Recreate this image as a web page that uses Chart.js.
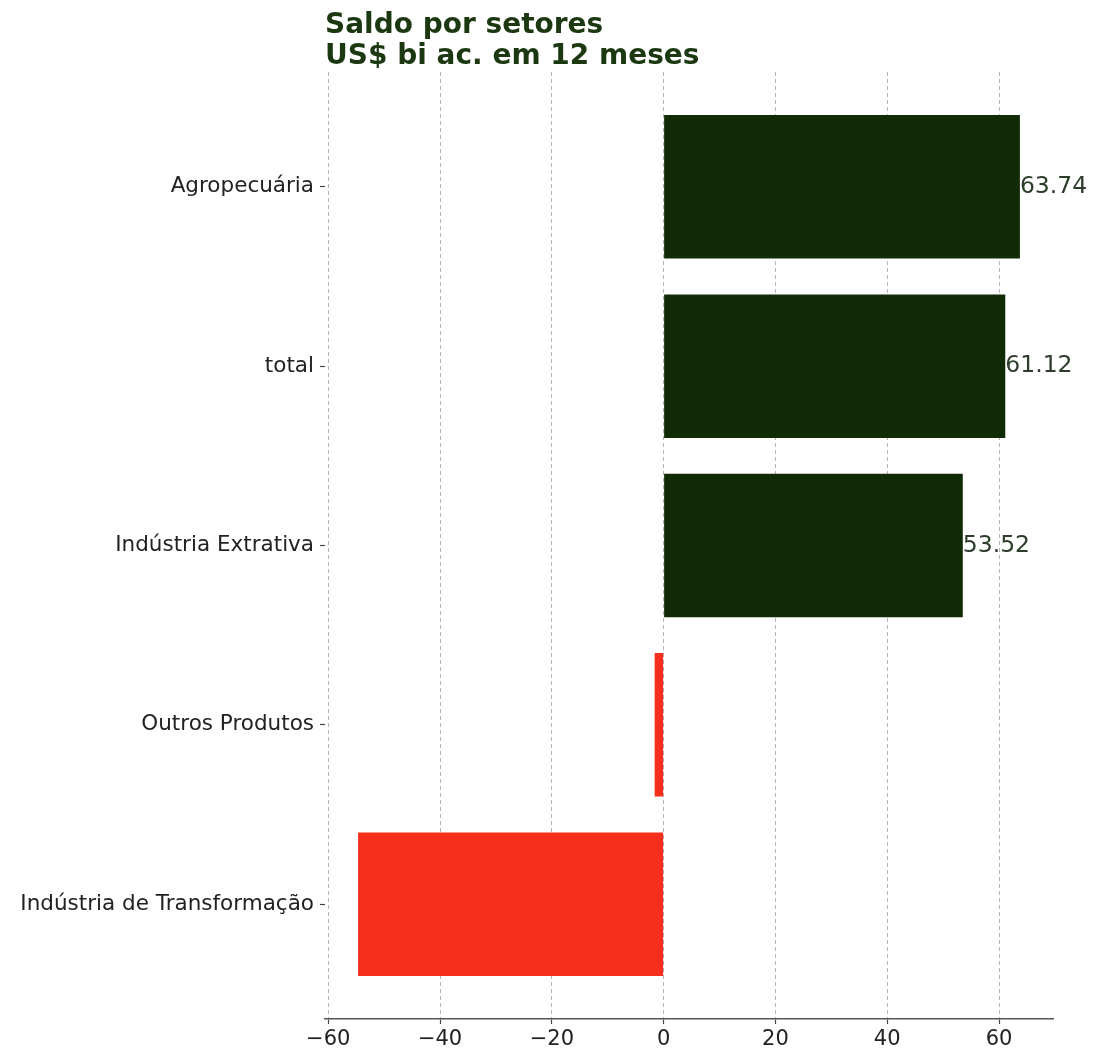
<!DOCTYPE html>
<html>
<head>
<meta charset="utf-8">
<script src="https://cdn.jsdelivr.net/npm/chart.js@4/dist/chart.umd.min.js"></script>
<style>
  body { margin: 0; background: #fff; }
</style>
</head>
<body>
<canvas id="saldoChart" width="1094" height="1050"></canvas>
<script>
// dados
const categories = ['Agropecuária', 'total', 'Indústria Extrativa', 'Outros Produtos', 'Indústria de Transformação'];
const saldo = [63.74, 61.12, 53.52, -1.6, -54.66];
const xTicks = [-60, -40, -20, 0, 20, 40, 60];
const titleLines = ['Saldo por setores', 'US$ bi ac. em 12 meses'];

const FONT = "'DejaVu Sans', sans-serif";
const verde = '#122b07';
const vermelho = '#f62e1b';

// limites como o matplotlib (margem de 5%)
const dMin = Math.min(0, ...saldo), dMax = Math.max(0, ...saldo);
const margem = (dMax - dMin) * 0.05;

const titlePlugin = {
    id: 'tituloEsquerda',
    afterDraw: (chart) => {
        const { ctx, chartArea } = chart;
        ctx.save();
        ctx.fillStyle = '#1b3811';
        ctx.font = 'bold 28px ' + FONT;
        ctx.textAlign = 'left';
        ctx.textBaseline = 'alphabetic';
        ctx.fillText(titleLines[0], chartArea.left, 33);
        ctx.fillText(titleLines[1], chartArea.left, 64);
        ctx.restore();
    }
};

// rótulos dos valores positivos na ponta da barra
const valueLabels = {
    id: 'rotulosValores',
    afterDatasetsDraw: (chart) => {
        const { ctx } = chart;
        const meta = chart.getDatasetMeta(0);
        ctx.save();
        ctx.fillStyle = '#2c3d2a';
        ctx.font = '23.5px ' + FONT;
        ctx.textAlign = 'left';
        ctx.textBaseline = 'middle';
        meta.data.forEach((bar, i) => {
            if (saldo[i] > 0) {
                ctx.fillText(saldo[i].toFixed(2), bar.x, bar.y);
            }
        });
        ctx.restore();
    }
};

new Chart(document.getElementById('saldoChart').getContext('2d'), {
    type: 'bar',
    data: {
        datasets: [{
            data: saldo.map((v, i) => ({ x: v, y: i })),
            backgroundColor: saldo.map(v => v >= 0 ? verde : vermelho),
            barPercentage: 0.8,
            categoryPercentage: 1.0,
            borderWidth: 0
        }]
    },
    options: {
        responsive: false,
        animation: false,
        indexAxis: 'y',
        layout: { padding: { top: 72, right: 41, left: 0, bottom: 0 } },
        plugins: {
            legend: { display: false },
            tooltip: { enabled: false },
            title: { display: false }
        },
        scales: {
            x: {
                type: 'linear',
                min: dMin - margem,
                max: dMax + margem,
                afterBuildTicks: (scale) => { scale.ticks = xTicks.map(v => ({ value: v })); },
                afterFit: (scale) => { scale.height = 31; },
                grid: {
                    color: '#b4b4b4',
                    lineWidth: 1,
                    tickLength: 5,
                    tickColor: '#444',
                    tickWidth: 1.2
                },
                border: { display: true, color: '#555', width: 1.5, dash: [4, 3] },
                ticks: {
                    color: '#222',
                    font: { family: FONT, size: 21 },
                    padding: 3,
                    maxRotation: 0,
                    callback: (v) => String(v).replace('-', '\u2212')
                }
            },
            y: {
                type: 'linear',
                reverse: true,
                offset: false,
                min: -0.64,
                max: categories.length - 1 + 0.64,
                afterBuildTicks: (scale) => { scale.ticks = categories.map((_, i) => ({ value: i })); },
                afterFit: (scale) => { scale.width = 325; },
                grid: {
                    display: true,
                    offset: false,
                    drawOnChartArea: false,
                    tickLength: 5,
                    tickColor: '#444',
                    tickWidth: 1.2
                },
                border: { display: false },
                ticks: {
                    color: '#222',
                    font: { family: FONT, size: 21.5 },
                    padding: 6,
                    callback: (v) => categories[v]
                }
            }
        }
    },
    plugins: [titlePlugin, valueLabels]
});
</script>
</body>
</html>
